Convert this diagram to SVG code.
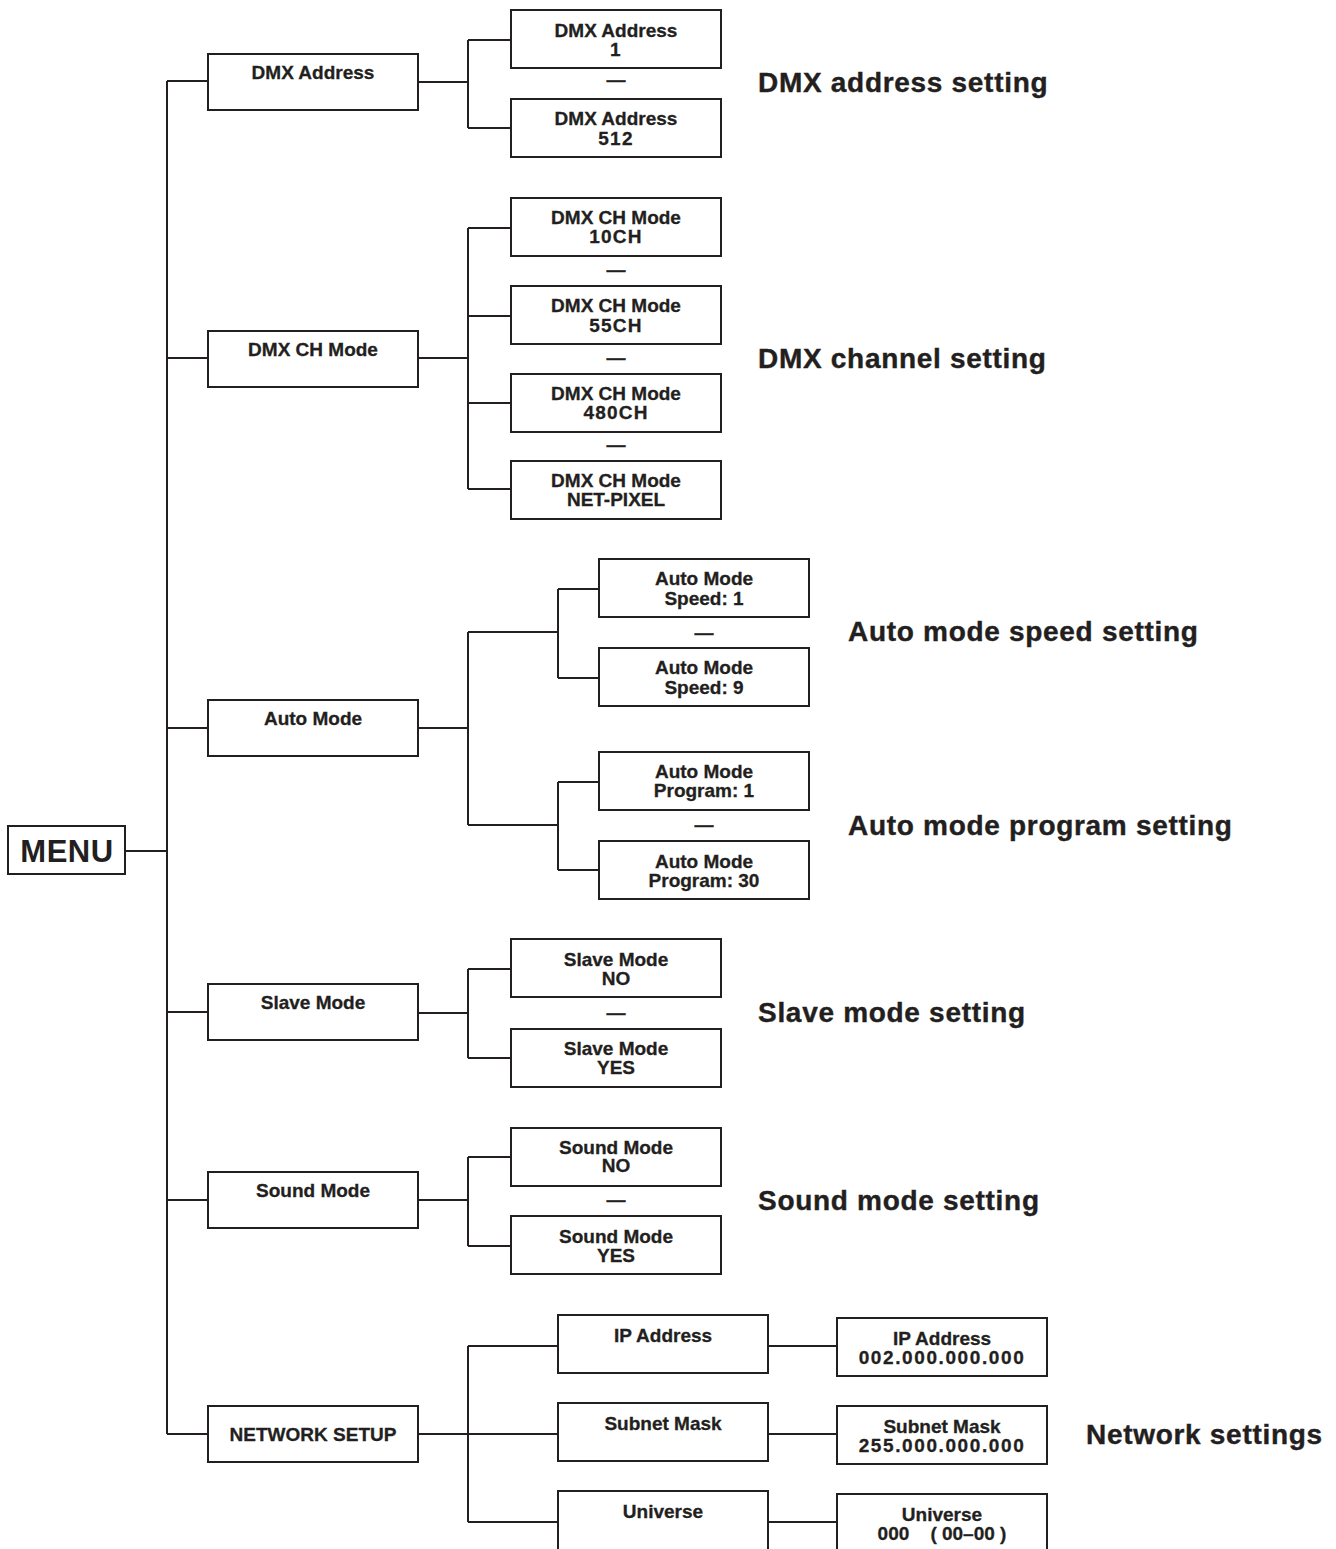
<svg xmlns="http://www.w3.org/2000/svg" width="1336" height="1549" viewBox="0 0 1336 1549">
<style>
.b{fill:#fff;stroke:#231f20;stroke-width:2}
.c{fill:none;stroke:#231f20;stroke-width:2}
.t{font-family:"Liberation Sans",Arial,sans-serif;font-weight:bold;font-size:19px;fill:#231f20;stroke:#231f20;stroke-width:0.3;text-anchor:middle}
.n{letter-spacing:1.2px}
.l{font-family:"Liberation Sans",Arial,sans-serif;font-weight:bold;font-size:28px;letter-spacing:0.7px;fill:#231f20;stroke:#231f20;stroke-width:0.4}
.m{font-family:"Liberation Sans",Arial,sans-serif;font-weight:bold;font-size:31px;letter-spacing:0.5px;fill:#231f20;text-anchor:middle}
</style>
<rect width="1336" height="1549" fill="#fff"/>
<g id="connectors">
<path class="c" d="M125,851H167M167,81V1434M167,81H208M167,358H208M167,728H208M167,1012H208M167,1200H208M167,1434H208"/>
<path class="c" d="M418,82H468M468,40V128M468,40H511M468,128H511"/>
<path class="c" d="M418,358H468M468,228V489M468,228H511M468,316H511M468,403H511M468,489H511"/>
<path class="c" d="M418,728H468M468,632V825M468,632H558M468,825H558M558,589V678M558,589H599M558,678H599M558,782V870M558,782H599M558,870H599"/>
<path class="c" d="M418,1013H468M468,969V1058M468,969H511M468,1058H511"/>
<path class="c" d="M418,1200H468M468,1157V1246M468,1157H511M468,1246H511"/>
<path class="c" d="M418,1434H558M468,1346V1522M468,1346H558M468,1522H558M768,1346H837M768,1434H837M768,1522H837"/>
</g>
<g id="menu"><rect class="b" x="8" y="826" width="117" height="48"/><text class="m" x="67" y="862">MENU</text></g>
<g id="dmx-address"><rect class="b" x="208" y="54" width="210" height="56"/><text class="t" x="313" y="79">DMX Address</text></g>
<g id="dmx-ch-mode"><rect class="b" x="208" y="331" width="210" height="56"/><text class="t" x="313" y="356">DMX CH Mode</text></g>
<g id="auto-mode"><rect class="b" x="208" y="700" width="210" height="56"/><text class="t" x="313" y="725">Auto Mode</text></g>
<g id="slave-mode"><rect class="b" x="208" y="984" width="210" height="56"/><text class="t" x="313" y="1009">Slave Mode</text></g>
<g id="sound-mode"><rect class="b" x="208" y="1172" width="210" height="56"/><text class="t" x="313" y="1197">Sound Mode</text></g>
<g id="network-setup"><rect class="b" x="208" y="1406" width="210" height="56"/><text class="t" x="313" y="1441">NETWORK SETUP</text></g>

<g id="dmx-addr-1"><rect class="b" x="511" y="10" width="210" height="58"/><text class="t" x="616" y="37">DMX Address</text><text class="t n" x="616" y="56">1</text></g>
<text class="t" x="616" y="86">—</text>
<g id="dmx-addr-512"><rect class="b" x="511" y="99" width="210" height="58"/><text class="t" x="616" y="125">DMX Address</text><text class="t n" x="616" y="145">512</text></g>
<text class="l" x="758" y="92">DMX address setting</text>

<g id="ch-10"><rect class="b" x="511" y="198" width="210" height="58"/><text class="t" x="616" y="224">DMX CH Mode</text><text class="t n" x="616" y="243">10CH</text></g>
<text class="t" x="616" y="276">—</text>
<g id="ch-55"><rect class="b" x="511" y="286" width="210" height="58"/><text class="t" x="616" y="312">DMX CH Mode</text><text class="t n" x="616" y="332">55CH</text></g>
<text class="t" x="616" y="364">—</text>
<g id="ch-480"><rect class="b" x="511" y="374" width="210" height="58"/><text class="t" x="616" y="400">DMX CH Mode</text><text class="t n" x="616" y="419">480CH</text></g>
<text class="t" x="616" y="451">—</text>
<g id="ch-netpixel"><rect class="b" x="511" y="461" width="210" height="58"/><text class="t" x="616" y="487">DMX CH Mode</text><text class="t" x="616" y="506">NET-PIXEL</text></g>
<text class="l" x="758" y="368">DMX channel setting</text>

<g id="speed-1"><rect class="b" x="599" y="559" width="210" height="58"/><text class="t" x="704" y="585">Auto Mode</text><text class="t" x="704" y="605">Speed: 1</text></g>
<text class="t" x="704" y="639">—</text>
<g id="speed-9"><rect class="b" x="599" y="648" width="210" height="58"/><text class="t" x="704" y="674">Auto Mode</text><text class="t" x="704" y="694">Speed: 9</text></g>
<text class="l" x="848" y="641">Auto mode speed setting</text>
<g id="program-1"><rect class="b" x="599" y="752" width="210" height="58"/><text class="t" x="704" y="778">Auto Mode</text><text class="t" x="704" y="797">Program: 1</text></g>
<text class="t" x="704" y="831">—</text>
<g id="program-30"><rect class="b" x="599" y="841" width="210" height="58"/><text class="t" x="704" y="868">Auto Mode</text><text class="t" x="704" y="887">Program: 30</text></g>
<text class="l" x="848" y="835">Auto mode program setting</text>

<g id="slave-no"><rect class="b" x="511" y="939" width="210" height="58"/><text class="t" x="616" y="966">Slave Mode</text><text class="t" x="616" y="985">NO</text></g>
<text class="t" x="616" y="1019">—</text>
<g id="slave-yes"><rect class="b" x="511" y="1029" width="210" height="58"/><text class="t" x="616" y="1055">Slave Mode</text><text class="t" x="616" y="1074">YES</text></g>
<text class="l" x="758" y="1022">Slave mode setting</text>

<g id="sound-no"><rect class="b" x="511" y="1128" width="210" height="58"/><text class="t" x="616" y="1154">Sound Mode</text><text class="t" x="616" y="1172">NO</text></g>
<text class="t" x="616" y="1206">—</text>
<g id="sound-yes"><rect class="b" x="511" y="1216" width="210" height="58"/><text class="t" x="616" y="1243">Sound Mode</text><text class="t" x="616" y="1262">YES</text></g>
<text class="l" x="758" y="1210">Sound mode setting</text>

<g id="ip-address"><rect class="b" x="558" y="1315" width="210" height="58"/><text class="t" x="663" y="1342">IP Address</text></g>
<g id="subnet-mask"><rect class="b" x="558" y="1403" width="210" height="58"/><text class="t" x="663" y="1430">Subnet Mask</text></g>
<g id="universe"><rect class="b" x="558" y="1491" width="210" height="62"/><text class="t" x="663" y="1518">Universe</text></g>
<g id="ip-value"><rect class="b" x="837" y="1318" width="210" height="58"/><text class="t" x="942" y="1345">IP Address</text><text class="t" x="942" y="1364" style="letter-spacing:1.6px">002.000.000.000</text></g>
<g id="subnet-value"><rect class="b" x="837" y="1406" width="210" height="58"/><text class="t" x="942" y="1433">Subnet Mask</text><text class="t" x="942" y="1452" style="letter-spacing:1.6px">255.000.000.000</text></g>
<g id="universe-value"><rect class="b" x="837" y="1494" width="210" height="62"/><text class="t" x="942" y="1521">Universe</text><text class="t" x="942" y="1540" xml:space="preserve">000    ( 00–00 )</text></g>
<text class="l" x="1086" y="1444">Network settings</text>
</svg>
